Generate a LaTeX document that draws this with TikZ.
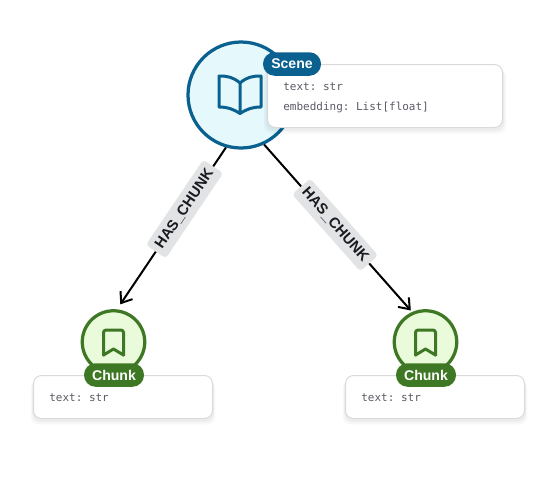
\documentclass[tikz,border=0pt]{standalone}
\usepackage{fontspec}
\setmainfont{Liberation Sans}
\setmonofont{DejaVu Sans Mono}
\usepackage{xcolor}
\usetikzlibrary{arrows.meta,shadows}
\definecolor{sceneblue}{HTML}{0A6190}
\definecolor{scenefill}{HTML}{E5F9FC}
\definecolor{chunkgreen}{HTML}{3F7824}
\definecolor{chunkfill}{HTML}{E9FBDA}
\definecolor{cardline}{HTML}{D9DADE}
\definecolor{cardtext}{HTML}{5A5B66}
\definecolor{labelgray}{HTML}{E2E3E5}
\definecolor{labeltext}{HTML}{1A1B20}

\begin{document}
\begin{tikzpicture}[>={Straight Barb[length=1.9mm,width=2.9mm]},
 entity/.style={circle,draw,line width=0.065cm,inner sep=0pt},
 scenecircle/.style={entity,draw=sceneblue,fill=scenefill,minimum size=2.12cm},
 chunkcircle/.style={entity,draw=chunkgreen,fill=chunkfill,minimum size=1.25cm},
 softshadow/.style={general shadow={fill=black,opacity=.03,shadow yshift=-.1cm,shadow scale=1.03},
  general shadow={fill=black,opacity=.04,shadow yshift=-.06cm,shadow scale=1.015}},
 card/.style={rectangle,rounded corners=0.16cm,draw=cardline,line width=0.02cm,fill=white,softshadow,
  anchor=north west,inner sep=0pt},
 props/.style={anchor=north west,align=left,inner sep=0pt,text=cardtext,
  font=\ttfamily\fontsize{6.25}{11.4}\selectfont},
 pill/.style={rectangle,rounded corners=0.23cm,text=white,font=\bfseries\fontsize{8}{8}\selectfont,
  minimum height=0.47cm,inner sep=0pt},
 relation/.style={->,line width=0.04cm,black},
 relname/.style={sloped,fill=labelgray,rounded corners=0.07cm,text=labeltext,inner xsep=0.1cm,inner ysep=0pt,
  minimum height=0.48cm,font=\bfseries\fontsize{8.4}{8}\selectfont},
 icon/.style={line width=0.06cm,line join=round,line cap=round}]
\useasboundingbox (0,0) rectangle (10.8,9.6);
\fill[white] (0,0) rectangle (10.8,9.6);
\node[scenecircle] (scene) at (4.82,7.7) {};
\node[chunkcircle] (chunkA) at (2.27,2.76) {};
\node[chunkcircle] (chunkB) at (8.51,2.76) {};
\draw[icon,sceneblue] (4.8,7.94) .. controls (4.66,8.06) and (4.55,8.08) .. (4.38,8.08) -- (4.38,7.46) .. controls (4.55,7.46) and (4.66,7.42) .. (4.8,7.33) .. controls (4.94,7.42) and (5.05,7.46) .. (5.22,7.46) -- (5.22,8.08) .. controls (5.05,8.08) and (4.94,8.06) .. (4.8,7.94) -- cycle (4.8,7.94) -- (4.8,7.33);
\foreach \name/\x in {A/2.27,B/8.51}{
 \draw[icon,chunkgreen,rounded corners=0.05cm] (\x-0.2,2.5) -- (\x-0.2,3.0) -- (\x+0.2,3.0) -- (\x+0.2,2.5);
 \draw[icon,chunkgreen] (\x-0.2,2.5) -- (\x,2.62) -- (\x+0.2,2.5);
}
\node[card,minimum width=4.7cm,minimum height=1.26cm] (sceneCard) at (5.34,8.32) {};
\node[card,minimum width=3.58cm,minimum height=0.86cm] (chunkACard) at (0.66,2.1) {};
\node[card,minimum width=3.58cm,minimum height=0.86cm] (chunkBCard) at (6.9,2.1) {};
\node[props] (sceneProps) at (5.66,7.96) {text: str\\embedding: List[float]};
\node[props] (chunkAProps) at (0.98,1.74) {text: str};
\node[props] (chunkBProps) at (7.22,1.74) {text: str};
\node[pill,fill=sceneblue,minimum width=1.16cm] (sceneTag) at (5.84,8.32) {Scene};
\node[pill,fill=chunkgreen,minimum width=1.2cm] (chunkATag) at (2.28,2.1) {Chunk};
\node[pill,fill=chunkgreen,minimum width=1.2cm] (chunkBTag) at (8.52,2.1) {Chunk};
\draw[relation,shorten >=0.12cm] (scene.-106) -- node[relname,pos=.38] {HAS\_CHUNK} (chunkA.84);
\draw[relation,shorten >=0.04cm] (scene.-65) -- node[relname,pos=.48] {HAS\_CHUNK} (chunkB.114);
\end{tikzpicture}
\end{document}
